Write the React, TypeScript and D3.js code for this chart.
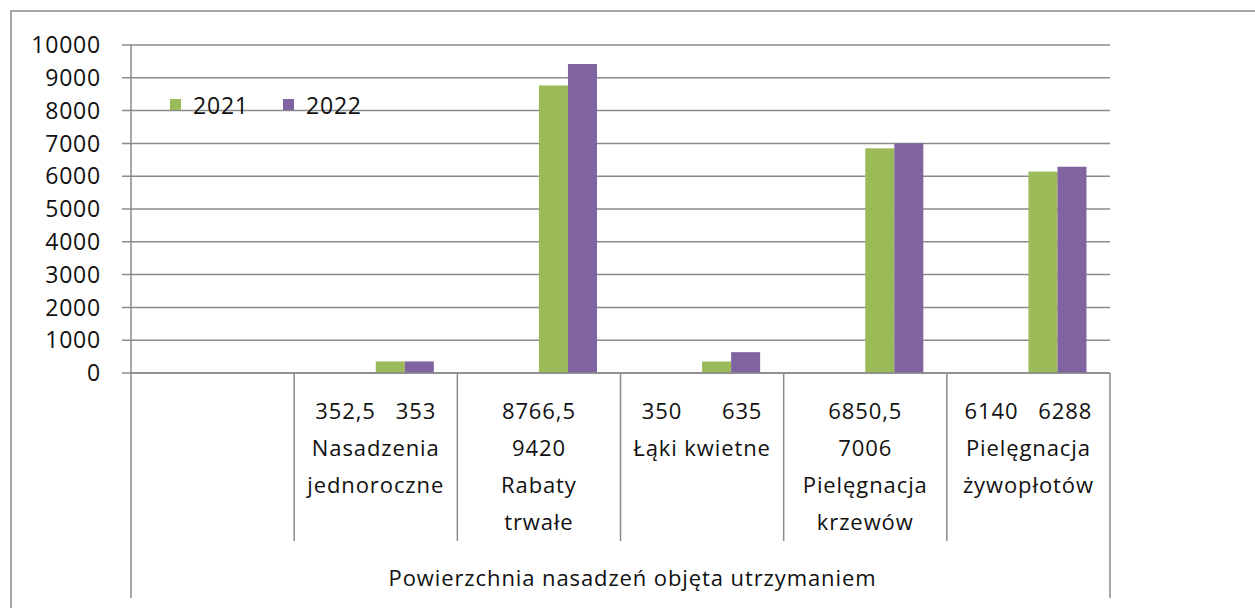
import React from "react";
import * as d3 from "d3";

// categories (first one is an empty slot in the original sheet)
const categories = ["", "Nasadzenia jednoroczne", "Rabaty trwałe", "Łąki kwietne", "Pielęgnacja krzewów", "Pielęgnacja żywopłotów"];
const series = ["2021", "2022"];
const values2021 = [null, 352.5, 8766.5, 350, 6850.5, 6140];
const values2022 = [null, 353, 9420, 635, 7006, 6288];
// how each category label wraps (value line(s) then name line(s))
const labelLines = [
  [],
  ["352,5   353", "Nasadzenia", "jednoroczne"],
  ["8766,5", "9420", "Rabaty", "trwałe"],
  ["350      635", "Łąki kwietne"],
  ["6850,5", "7006", "Pielęgnacja", "krzewów"],
  ["6140   6288", "Pielęgnacja", "żywopłotów"],
];
const groupLabel = "Powierzchnia nasadzeń objęta utrzymaniem";
const yTicks = [0, 1000, 2000, 3000, 4000, 5000, 6000, 7000, 8000, 9000, 10000];
// sheet had 4 series columns, first two empty
const slots = ["empty1", "empty2", "2021", "2022"];
const colours = { "2021": "#9BBB59", "2022": "#8064A2" };

const W = 1255, H = 608;
const font = "'Open Sans', Lato, sans-serif";
const grey = "#8a8a8a";

export default function App() {
  const left = 131, right = 1110, top = 45, bottom = 373;
  const x = d3.scaleBand().domain(categories.map((c, i) => String(i))).range([left, right]).padding(0);
  const xs = d3.scaleBand().domain(slots).range([0, x.bandwidth()]).paddingInner(0).paddingOuter(0.81);
  const y = d3.scaleLinear().domain([0, 10000]).range([bottom, top]);

  const data = [values2021, values2022];

  return (
    <svg width={W} height={H} style={{ position: "absolute", left: 0, top: 0, background: "#fff" }} fontFamily={font}>
      <rect x={11} y={11} width={W + 20} height={H + 20} fill="#fff" stroke={grey} strokeWidth={1.5} />
      {/* gridlines + tick marks */}
      {yTicks.map(t => (
        <g key={t}>
          <line x1={122} x2={right} y1={y(t)} y2={y(t)} stroke={grey} strokeWidth={1.5} />
          <text x={101} y={y(t)} dy="0.36em" textAnchor="end" fontSize={23} letterSpacing={0.8} fill="#111">{t}</text>
        </g>
      ))}
      {/* bars */}
      {series.map((s, si) =>
        data[si].map((v, i) => v == null ? null : (
          <rect key={s + i} x={x(String(i))! + xs(s)!} width={xs.bandwidth()} y={y(v)} height={y(0) - y(v)}
            fill={colours[s]} />
        ))
      )}
      {/* axes */}
      <line x1={left} x2={left} y1={top} y2={598} stroke={grey} strokeWidth={1.5} />
      <line x1={right} x2={right} y1={bottom} y2={598} stroke={grey} strokeWidth={1.5} />
      <line x1={left} x2={right} y1={bottom} y2={bottom} stroke={grey} strokeWidth={1.5} />
      {categories.slice(1).map((c, i) => (
        <line key={c} x1={x(String(i + 1))} x2={x(String(i + 1))} y1={bottom} y2={541} stroke={grey} strokeWidth={1.5} />
      ))}
      {labelLines.map((lines, i) => (
        <text key={i} textAnchor="middle" fontSize={22} letterSpacing={0.9} fill="#111">
          {lines.map((l, j) => (
            <tspan key={j} x={x(String(i))! + x.bandwidth() / 2} y={411 + j * 37} dy="0.36em" style={{ whiteSpace: "pre" }}>{l}</tspan>
          ))}
        </text>
      ))}
      <text x={(left + right) / 2 + 12} y={578} dy="0.36em" textAnchor="middle" fontSize={22} letterSpacing={0.9} fill="#111">{groupLabel}</text>
      {/* legend */}
      {series.map((s, i) => (
        <g key={s} transform={`translate(${170 + i * 113},0)`}>
          <rect x={0} y={99} width={11} height={11} fill={colours[s]} />
          <text x={23} y={106} dy="0.36em" fontSize={23} letterSpacing={0.8} fill="#111">{s}</text>
        </g>
      ))}
    </svg>
  );
}
